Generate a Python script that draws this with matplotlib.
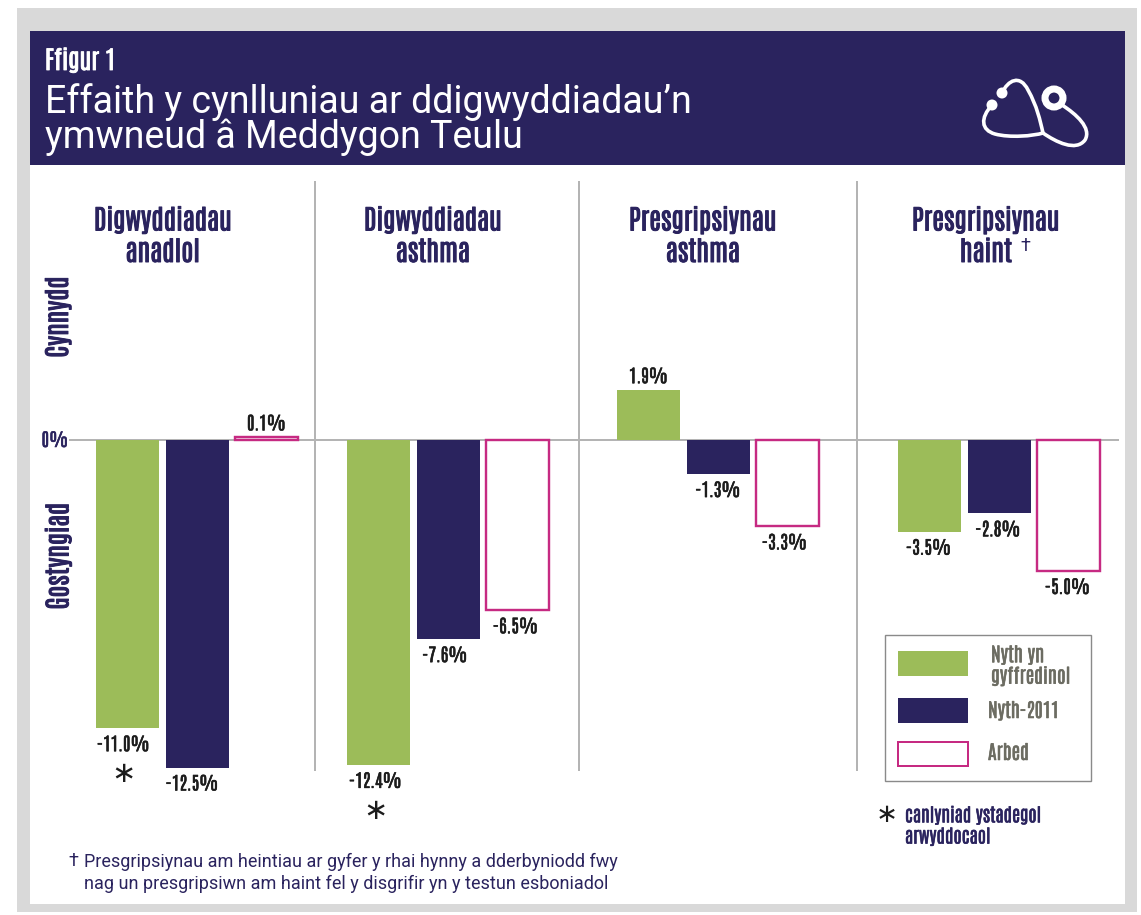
import matplotlib
matplotlib.use('Agg')
import matplotlib.pyplot as plt
import matplotlib.patheffects as pe
from matplotlib.patches import Rectangle, Circle, PathPatch
from matplotlib.path import Path

groups = ['Digwyddiadau\nanadlol', 'Digwyddiadau\nasthma', 'Presgripsiynau\nasthma', 'Presgripsiynau\nhaint']
series_names = ['Nyth yn\ngyffredinol', 'Nyth-2011', 'Arbed']
nyth_gyffredinol = [-11.0, -12.4, 1.9, -3.5]
nyth_2011 = [-12.5, -7.6, -1.3, -2.8]
arbed = [0.1, -6.5, -3.3, -5.0]
significant = [True, True, False, False]

NAVY = '#2a235e'
GREEN = '#9cbc59'
PINK = '#c62a82'
GREY = '#b4b4b4'
DARK = '#1c1c1c'
NARROW = ['Antonio', 'Barlow Condensed', 'DejaVu Sans']
BODY = ['Roboto', 'DejaVu Sans']

W, H = 1141, 915
PX = 0.72


def heavy(color, width=0.6):
    # the condensed face only loads at its regular weight, so thicken it
    return [pe.withStroke(linewidth=width, foreground=color)]


fig = plt.figure(figsize=(W / 100, H / 100), dpi=100, facecolor='white')

# pixel layer for the frame, header and notes
bg = fig.add_axes([0, 0, 1, 1], zorder=0)
bg.set_xlim(0, W)
bg.set_ylim(H, 0)
bg.axis('off')
bg.add_patch(Rectangle((17, 8), 1120, 904, fc='#d9d9d9', ec='none'))
bg.add_patch(Rectangle((30, 31), 1095, 873, fc='white', ec='none'))
bg.add_patch(Rectangle((30, 31), 1095, 134, fc=NAVY, ec='none'))

bg.text(45, 60, 'Ffigur 1', color='white', fontsize=18, family=NARROW, va='center', path_effects=heavy('white'))
bg.text(45, 102, 'Effaith y cynlluniau ar ddigwyddiadau’n', color='white', fontsize=27, family=BODY, va='center')
bg.text(45, 137, 'ymwneud â Meddygon Teulu', color='white', fontsize=27, family=BODY, va='center')

# stethoscope icon
tube = Path([(1002, 93), (1008, 80), (1020, 74), (1028, 90), (1037, 106), (1040, 120), (1043, 133),
             (1033, 136), (1010, 138), (995, 134), (981, 130), (980, 118), (992, 105)],
            [Path.MOVETO, Path.CURVE4, Path.CURVE4, Path.CURVE4, Path.CURVE4, Path.CURVE4, Path.CURVE4,
             Path.CURVE4, Path.CURVE4, Path.CURVE4, Path.CURVE4, Path.CURVE4, Path.CURVE4])
tube2 = Path([(1043, 133), (1056, 142), (1076, 152), (1085, 140), (1092, 128), (1076, 114), (1062, 105)],
             [Path.MOVETO, Path.CURVE4, Path.CURVE4, Path.CURVE4, Path.CURVE4, Path.CURVE4, Path.CURVE4])
for p in [tube, tube2]:
    bg.add_patch(PathPatch(p, fc='none', ec='white', lw=3.6 * PX, capstyle='round'))
bg.add_patch(Circle((1002, 93), 5.5, fc='white', ec='none'))
bg.add_patch(Circle((992, 105), 5.5, fc='white', ec='none'))
bg.add_patch(Circle((1054, 98), 9, fc='none', ec='white', lw=7 * PX))

# bars share the pixel frame in x, y is in percent
ax = fig.add_axes([0, 0, 1, 1], zorder=1)
ax.patch.set_alpha(0)
ax.axis('off')
ax.set_xlim(0, W)
ax.set_ylim(-(H - 440) / 26.2, 440 / 26.2)

group_x = [197, 448, 718, 999]
heading_x = [163, 433, 703, 986]
bar_w = 63
offsets = [-69.5, 0, 69.5]
label_dx = [[-4, -5, 0], [-3, -3, -2], [0, 0, -3], [-1, -1, -1]]

for x in [315, 579, 857]:
    ax.plot([x, x], [(440 - 182) / 26.2, (440 - 770) / 26.2], color=GREY, lw=2 * PX)
ax.plot([70, 1118], [0, 0], color=GREY, lw=2 * PX, zorder=1)

for i, name in enumerate(groups):
    vals = [nyth_gyffredinol[i], nyth_2011[i], arbed[i]]
    ax.bar(group_x[i] + offsets[0], vals[0], bar_w, color=GREEN, zorder=2)
    ax.bar(group_x[i] + offsets[1], vals[1], bar_w, color=NAVY, zorder=2)
    ax.bar(group_x[i] + offsets[2], vals[2], bar_w, facecolor='white', edgecolor=PINK, lw=2.4 * PX, zorder=2)
    for j, v in enumerate(vals):
        off = 14 if v > 0 else -16
        ax.annotate(f'{v:.1f}%', (group_x[i] + offsets[j] + label_dx[i][j], v), xytext=(0, off * PX),
                    textcoords='offset points', ha='center', va='center', fontsize=13,
                    family=NARROW, color=DARK, path_effects=heavy(DARK, 0.4))
    if significant[i]:
        ax.annotate('∗', (group_x[i] + offsets[0] + label_dx[i][0], vals[0]), xytext=(0, -46 * PX),
                    textcoords='offset points', ha='center', va='center', fontsize=21, color=DARK,
                    family='DejaVu Sans')
    # two separate lines so the dagger beside "haint" sits clear of the long first line
    for line, y in zip(name.split('\n'), [220, 252]):
        bg.text(heading_x[i], y, line, ha='center', va='center', fontsize=19.5,
                family=NARROW, color=NAVY, path_effects=heavy(NAVY, 0.7))

bg.text(1025, 246, '†', color=NAVY, fontsize=13, family=BODY, ha='center', va='center')
bg.text(58, 317, 'Cynnydd', rotation=90, color=NAVY, fontsize=19, family=NARROW,
        ha='center', va='center', path_effects=heavy(NAVY, 0.7))
bg.text(58, 556, 'Gostyngiad', rotation=90, color=NAVY, fontsize=19, family=NARROW,
        ha='center', va='center', path_effects=heavy(NAVY, 0.7))
bg.text(55, 440, '0%', color=NAVY, fontsize=13, family=NARROW, ha='center', va='center',
        path_effects=heavy(NAVY, 0.4))

# legend
bg.add_patch(Rectangle((885, 635), 206, 146, fc='white', ec='#8a8a8a', lw=1.4 * PX))
bg.add_patch(Rectangle((898, 651), 70, 25, fc=GREEN, ec='none'))
bg.add_patch(Rectangle((898, 698), 70, 25, fc=NAVY, ec='none'))
bg.add_patch(Rectangle((898, 742), 70, 24, fc='white', ec=PINK, lw=2 * PX))
for y, x, name in zip([665, 710, 752], [991, 988, 988], series_names):
    bg.text(x, y, name, color='#6c6c62', fontsize=14, family=NARROW, va='center',
            linespacing=1.08, path_effects=heavy('#6c6c62', 0.4))

bg.text(887, 815, '∗', color=DARK, fontsize=19, ha='center', va='center', family='DejaVu Sans')
bg.text(905, 826, 'canlyniad ystadegol\narwyddocaol', color=NAVY, fontsize=13.3, family=NARROW,
        va='center', linespacing=1.2, path_effects=heavy(NAVY, 0.4))

bg.text(68, 861, '†', color=NAVY, fontsize=13, family=BODY, va='center')
bg.text(84, 873, 'Presgripsiynau am heintiau ar gyfer y rhai hynny a dderbyniodd fwy\n'
        'nag un presgripsiwn am haint fel y disgrifir yn y testun esboniadol',
        color=NAVY, fontsize=13, family=BODY, va='center', linespacing=1.25)

fig.savefig('out.png', dpi=100)
